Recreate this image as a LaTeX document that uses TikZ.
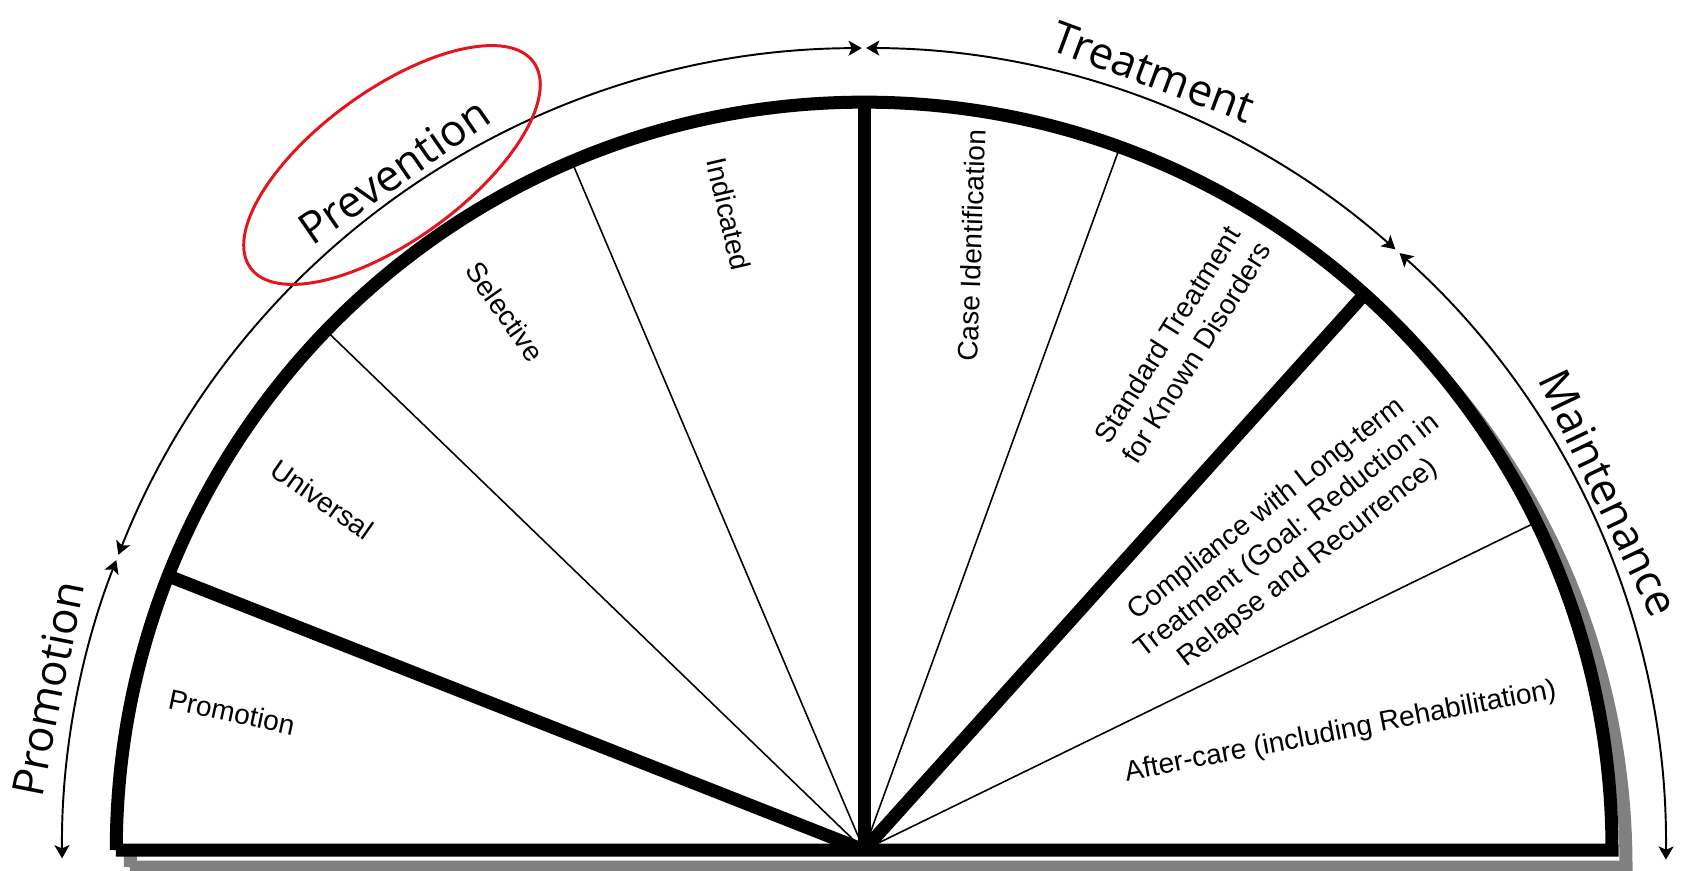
\documentclass[tikz,border=0pt]{standalone}
\usepackage{fontspec}
\setmainfont{Liberation Sans}
\newfontfamily\phasefont{Open Sans}
\usetikzlibrary{arrows.meta,shapes.geometric}
\definecolor{ringred}{RGB}{226,22,28}
\tikzset{
  rim/.style={line width=7.4pt,line join=miter},
  spoke/.style={line width=0.9pt},
  phasearrow/.style={line width=1.1pt,
    {Stealth[length=7.5pt,width=8.5pt,inset=1.8pt]}-{Stealth[length=7.5pt,width=8.5pt,inset=1.8pt]}},
  phase/.style={font=\phasefont\fontsize{25}{30}\selectfont,inner sep=0pt},
  sector/.style={font=\fontsize{16}{19.5}\selectfont,align=center,inner sep=0pt}
}
\begin{document}
\begin{tikzpicture}[x=.02cm,y=.02cm]

     \useasboundingbox (-864,-20) rectangle (818,850);
     \coordinate (apex) at (0,0);

     % shadow under the fan
     \draw[rim,draw=black!50] (-734,-17) -- (762,-17) arc (0:180:14.96cm) -- cycle;
     \fill[white] (-748,0) -- (748,0) arc (0:180:14.96cm) -- cycle;

     \foreach \a in {26,70,113,136}
     \draw[spoke] (apex) -- (\a:748);
     \foreach \a in {48,90,158.5}
     \draw[rim] (apex) -- (\a:748);

     \draw[rim] (-748,0) -- (748,0) arc (0:180:14.96cm) -- cycle;

     % outer arrows
     \draw[phasearrow] (180.6:802) arc (180.6:158.8:16.04cm);
     \draw[phasearrow] (158.4:802) arc (158.4:90.15:16.04cm);
     \draw[phasearrow] (89.85:802) arc (89.85:48.5:16.04cm);
     \draw[phasearrow] (48.1:802) arc (48.1:-0.7:16.04cm);

     \node[phase,rotate=78.8] (promo) at (168.8:832) {Promotion};
     \node[phase,rotate=34.7] (prev) at (124.7:826) {Prevention};
     \node[phase,rotate=-20.4] (treat) at (69.6:830) {Treatment};
     \node[phase,rotate=-64.4] (maint) at (25.6:826) {Maintenance};

     \node[draw=ringred,line width=1.7pt,ellipse,inner sep=0pt,
       minimum width=7cm,minimum height=3cm,rotate=36] (ring) at (-472,685) {};

     % sectors
     \node[sector,rotate=-12] (promotion) at (167.7:647) {Promotion};
     \node[sector,rotate=-35] (universal) at (147.1:645) {Universal};
     \node[sector,rotate=-55] (selective) at (123.7:647) {Selective};
     \node[sector,rotate=-77] (indicated) at (102:650) {Indicated};
     \node[sector,rotate=88] (caseid) at (79.9:614) {Case Identification};
     \node[sector,rotate=58] (standard) at (57.9:598)
       {Standard Treatment\\for Known Disorders};
     \node[sector,rotate=38] (compliance) at (36.5:527)
       {Compliance with Long-term\\Treatment (Goal: Reduction in\\Relapse and Recurrence)};
     \node[sector,rotate=11] (aftercare) at (13.9:491)
       {After-care (including Rehabilitation)};

\end{tikzpicture}
\end{document}
